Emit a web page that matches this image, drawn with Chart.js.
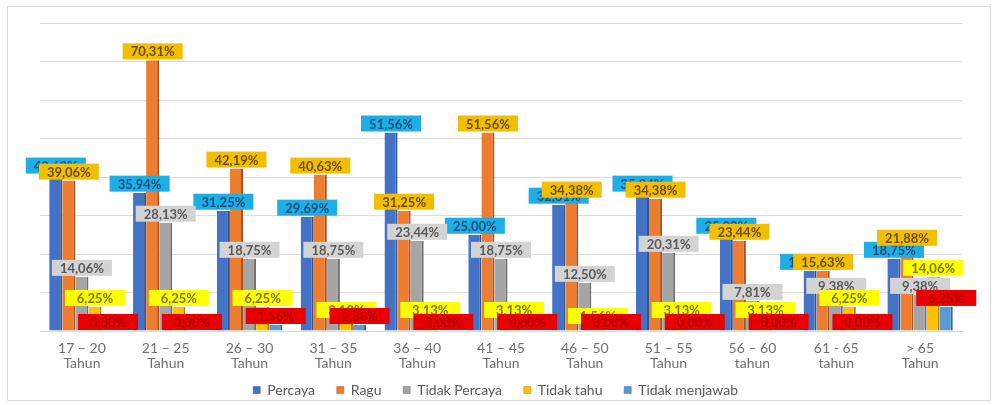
<!DOCTYPE html>
<html>
<head>
<meta charset="utf-8">
<script src="https://cdn.jsdelivr.net/npm/chart.js@4"></script>
<style>
  html, body { margin: 0; padding: 0; background: #fff; }
  #wrap { position: relative; width: 997px; height: 405px; }
</style>
</head>
<body>
<div id="wrap"><canvas id="ageChart"></canvas></div>
<script>
const categories = [
  ['17 – 20', 'Tahun'], ['21 – 25', 'Tahun'], ['26 – 30', 'Tahun'], ['31 – 35', 'Tahun'],
  ['36 – 40', 'Tahun'], ['41 – 45', 'Tahun'], ['46 – 50', 'Tahun'], ['51 – 55', 'Tahun'],
  ['56 – 60', 'tahun'], ['61 - 65', 'tahun'], ['> 65', 'Tahun']
];
const seriesNames = ['Percaya', 'Ragu', 'Tidak Percaya', 'Tidak tahu', 'Tidak menjawab'];
const percaya      = [40.63, 35.94, 31.25, 29.69, 51.56, 25.00, 32.81, 35.94, 25.00, 15.63, 18.75];
const ragu         = [39.06, 70.31, 42.19, 40.63, 31.25, 51.56, 34.38, 34.38, 23.44, 15.63, 21.88];
const tidakPercaya = [14.06, 28.13, 18.75, 18.75, 23.44, 18.75, 12.50, 20.31, 7.81, 9.38, 9.38];
const tidakTahu    = [6.25, 6.25, 6.25, 3.13, 3.13, 3.13, 1.56, 3.13, 3.13, 6.25, 14.06];
const tidakJawab   = [0.00, 0.00, 1.56, 1.56, 0.00, 0.00, 0.00, 0.00, 0.00, 0.00, 6.25];
const yTicks = [0, 10, 20, 30, 40, 50, 60, 70, 80];

const barColors  = ['#4472C4', '#ED7D31', '#A5A5A5', '#FFC000', '#5B9BD5'];
const edgeColors = ['#2F5597', '#A9521B', '#6E6E6E', '#B38600', '#2E6AA3'];
const tagFill    = ['#1CAEE4', '#F2BF00', '#D3D3D3', '#FFFF00', '#E80000'];
const tagText    = ['#1F4E79', '#6B4C00', '#595959', '#7A7A00', '#B00000'];

const allSeries = [percaya, ragu, tidakPercaya, tidakTahu, tidakJawab];

// frame round the chart
const framePlugin = {
  id: 'frame',
  beforeDraw(chart) {
    const c = chart.ctx;
    c.save();
    c.strokeStyle = '#DADADA';
    c.lineWidth = 1;
    c.strokeRect(7.5, 6.5, 983, 394);
    c.restore();
  }
};

// boxed value labels above each bar
const tagPlugin = {
  id: 'tags',
  afterDatasetsDraw(chart) {
    const c = chart.ctx;
    c.save();
    c.font = 'bold 13px Lato';
    c.textAlign = 'center';
    c.textBaseline = 'middle';
    chart.data.datasets.forEach((ds, i) => {
      const meta = chart.getDatasetMeta(i);
      meta.data.forEach((bar, j) => {
        const txt = ds.data[j].toFixed(2).replace('.', ',') + '%';
        const w = 60, h = 16;
        const x = bar.x - w / 2;
        const y = bar.y - h - 1;
        c.fillStyle = tagFill[i];
        c.fillRect(x, y, w, h);
        c.fillStyle = tagText[i];
        c.fillText(txt, bar.x, y + h / 2 + 1);
      });
    });
    c.restore();
  }
};

const ctx = document.getElementById('ageChart').getContext('2d');
new Chart(ctx, {
  type: 'bar',
  data: {
    labels: categories,
    datasets: allSeries.map((d, i) => ({
      label: seriesNames[i],
      data: d,
      backgroundColor: barColors[i],
      borderColor: edgeColors[i],
      borderWidth: { top: 0, right: 2, bottom: 0, left: 0 },
      borderSkipped: false,
      barPercentage: 1.0,
      categoryPercentage: 0.78
    }))
  },
  options: {
    responsive: true,
    maintainAspectRatio: false,
    animation: false,
    layout: { padding: { left: 40, right: 35, top: 23, bottom: 0 } },
    plugins: {
      legend: {
        position: 'bottom',
        maxHeight: 33,
        labels: {
          boxWidth: 7,
          boxHeight: 7,
          padding: 11,
          color: '#595959',
          font: { family: 'Lato', size: 14 },
          generateLabels(chart) {
            const items = Chart.defaults.plugins.legend.labels.generateLabels(chart);
            items.forEach(it => { it.text = it.text + '   '; });
            return items;
          }
        }
      },
      tooltip: { enabled: false }
    },
    scales: {
      x: {
        grid: { display: false, drawTicks: false, tickLength: 0 },
        border: { color: '#D9D9D9' },
        afterFit(scale) { scale.height = 41; },
        ticks: {
          color: '#707070',
          padding: 10,
          maxRotation: 0,
          font: { family: 'Lato', size: 14, lineHeight: 1.08 }
        }
      },
      y: {
        min: yTicks[0],
        max: yTicks[yTicks.length - 1],
        afterBuildTicks(axis) { axis.ticks = yTicks.map(v => ({ value: v })); },
        grid: { color: '#DDDDDD', drawTicks: false },
        border: { display: false },
        ticks: { display: false }
      }
    }
  },
  plugins: [framePlugin, tagPlugin]
});
</script>
</body>
</html>
